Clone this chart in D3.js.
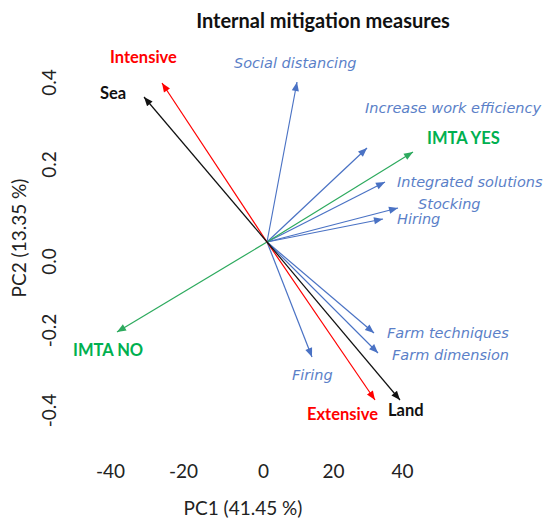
<!DOCTYPE html>
<html>
<head>
<meta charset="utf-8">
<script src="https://cdn.jsdelivr.net/npm/d3@7/dist/d3.min.js"></script>
<style>
    body { margin: 0; background: #fff; }
    .tick text { font-family: Lato, sans-serif; font-size: 19px; fill: #222; }
    .title { font-family: Lato, sans-serif; font-weight: bold; font-size: 20px; fill: #111; }
    .axis-title { font-family: Lato, sans-serif; font-size: 19px; fill: #222; }
    .var-label { font-family: 'DejaVu Sans', sans-serif; font-style: italic; font-size: 14.5px; fill: #5B7FC8; }
    .grp-label { font-family: Lato, sans-serif; font-weight: bold; font-size: 16.5px; }
</style>
</head>
<body>
<div id="vis"></div>
<script>
// tick labels of the two PCA axes
var pc1Ticks = [-40, -20, 0, 20, 40];
var pc2Ticks = [-0.4, -0.2, 0.0, 0.2, 0.4];

// mitigation measures (blue arrows), loadings on PC1 / PC2
var measures = ['Social distancing', 'Increase work efficiency', 'Integrated solutions', 'Stocking',
    'Hiring', 'Farm techniques', 'Farm dimension', 'Firing'];
var measurePC1 = [0.15, 0.50, 0.59, 0.655, 0.58, 0.535, 0.555, 0.225];
var measurePC2 = [0.80, 0.47, 0.30, 0.17, 0.115, -0.455, -0.555, -0.575];

// supplementary groups (coloured arrows)
var groups = ['IMTA YES', 'IMTA NO', 'Intensive', 'Extensive', 'Sea', 'Land'];
var groupPC1 = [0.73, -0.75, -0.525, 0.54, -0.615, 0.665];
var groupPC2 = [0.45, -0.45, 0.795, -0.79, 0.725, -0.79];
var groupColor = ['green', 'green', 'red', 'red', 'black', 'black'];

// label offsets from arrow tips (layout only)
var measureOffset = [[-63, -19], [-2, -40], [12, 0], [20, -4], [14, 0], [13, 0], [14, 2], [-20, 18]];
var groupOffset = [[14, -14], [-44, 18], [-52, -26], [-68, 14], [-44, -4], [-12, 10]];

var colors = { blue: '#4A72C4', green: '#2DAA5E', red: '#FF0000', black: '#111111' };
var textColors = { green: '#00B050', red: '#FF0000', black: '#111111' };

var svg = d3.select('#vis')
    .append('svg')
    .attr('width', 550)
    .attr('height', 524);

/* ****** Scales ****** */
// axis labels were placed by hand in the original, so use polylinear tick scales
var xTick = d3.scaleLinear()
    .domain(pc1Ticks)
    .range([110, 183, 263, 333, 402]);

var yTick = d3.scaleLinear()
    .domain(pc2Ticks)
    .range([410, 330, 261, 164, 82]);

// loadings scale, arrows start at the origin (267, 242)
var xLoad = d3.scaleLinear()
    .domain([-1, 1])
    .range([67, 467]);

var yLoad = d3.scaleLinear()
    .domain([-1, 1])
    .range([442, 42]);

/* ****** Axes (labels only) ****** */
var xAxis = d3.axisBottom(xTick)
    .tickValues(pc1Ticks)
    .tickSize(0)
    .tickFormat(d3.format('d'));

var yAxis = d3.axisLeft(yTick)
    .tickValues(pc2Ticks)
    .tickSize(0)
    .tickFormat(d3.format('.1f'));

var gx = svg.append('g')
    .attr('transform', 'translate(0,458)')
    .call(xAxis);
gx.select('.domain').remove();
gx.selectAll('text')
    .text(function (d) { return d < 0 ? '-' + Math.abs(d) : d; })
    .attr('y', 0)
    .attr('dy', null)
    .attr('dominant-baseline', 'central')
    .attr('transform', 'translate(0,12)');

var gy = svg.append('g')
    .attr('transform', 'translate(48,0)')
    .call(yAxis);
gy.select('.domain').remove();
gy.selectAll('text')
    .text(function (d) { return d < 0 ? '-' + Math.abs(d).toFixed(1) : d.toFixed(1); })
    .attr('x', 0)
    .attr('dy', null)
    .attr('text-anchor', 'middle')
    .attr('dominant-baseline', 'central')
    .attr('transform', 'rotate(-90)');

svg.append('text')
    .attr('class', 'title')
    .attr('x', 323)
    .attr('y', 20)
    .attr('text-anchor', 'middle')
    .attr('dominant-baseline', 'central')
    .text('Internal mitigation measures');

svg.append('text')
    .attr('class', 'axis-title')
    .attr('text-anchor', 'middle')
    .attr('transform', 'translate(243,507)')
    .attr('dominant-baseline', 'central')
    .text('PC1 (41.45 %)');

svg.append('text')
    .attr('class', 'axis-title')
    .attr('text-anchor', 'middle')
    .attr('dominant-baseline', 'central')
    .attr('transform', 'translate(18,238) rotate(-90)')
    .text('PC2 (13.35 %)');

/* ****** Arrow markers ****** */
var defs = svg.append('defs');
Object.keys(colors).forEach(function (c) {
    defs.append('marker')
        .attr('id', 'head-' + c)
        .attr('viewBox', '0 0 10 10')
        .attr('refX', 10)
        .attr('refY', 5)
        .attr('markerUnits', 'userSpaceOnUse')
        .attr('markerWidth', 10)
        .attr('markerHeight', 9)
        .attr('orient', 'auto')
        .append('path')
        .attr('d', 'M0,1 L10,5 L0,9 z')
        .attr('fill', colors[c]);
});

/* ****** Draw arrows ****** */
var measureData = measures.map(function (m, i) {
    return { name: m, x: measurePC1[i], y: measurePC2[i], off: measureOffset[i] };
});
var groupData = groups.map(function (g, i) {
    return { name: g, x: groupPC1[i], y: groupPC2[i], col: groupColor[i], off: groupOffset[i] };
});

svg.selectAll('.m-arrow')
    .data(measureData)
    .enter()
    .append('line')
    .attr('class', 'm-arrow')
    .attr('x1', xLoad(0))
    .attr('y1', yLoad(0))
    .attr('x2', function (d) { return xLoad(d.x); })
    .attr('y2', function (d) { return yLoad(d.y); })
    .attr('stroke', colors.blue)
    .attr('stroke-width', 1.2)
    .attr('marker-end', 'url(#head-blue)');

svg.selectAll('.g-arrow')
    .data(groupData)
    .enter()
    .append('line')
    .attr('class', 'g-arrow')
    .attr('x1', xLoad(0))
    .attr('y1', yLoad(0))
    .attr('x2', function (d) { return xLoad(d.x); })
    .attr('y2', function (d) { return yLoad(d.y); })
    .attr('stroke', function (d) { return colors[d.col]; })
    .attr('stroke-width', 1.2)
    .attr('marker-end', function (d) { return 'url(#head-' + d.col + ')'; });

/* ****** Labels ****** */
svg.selectAll('.var-label')
    .data(measureData)
    .enter()
    .append('text')
    .attr('class', 'var-label')
    .attr('x', function (d) { return xLoad(d.x) + d.off[0]; })
    .attr('y', function (d) { return yLoad(d.y) + d.off[1]; })
    .attr('dominant-baseline', 'central')
    .text(function (d) { return d.name; });

svg.selectAll('.grp-label')
    .data(groupData)
    .enter()
    .append('text')
    .attr('class', 'grp-label')
    .attr('x', function (d) { return xLoad(d.x) + d.off[0]; })
    .attr('y', function (d) { return yLoad(d.y) + d.off[1]; })
    .attr('dominant-baseline', 'central')
    .attr('fill', function (d) { return textColors[d.col]; })
    .text(function (d) { return d.name; });
</script>
</body>
</html>
